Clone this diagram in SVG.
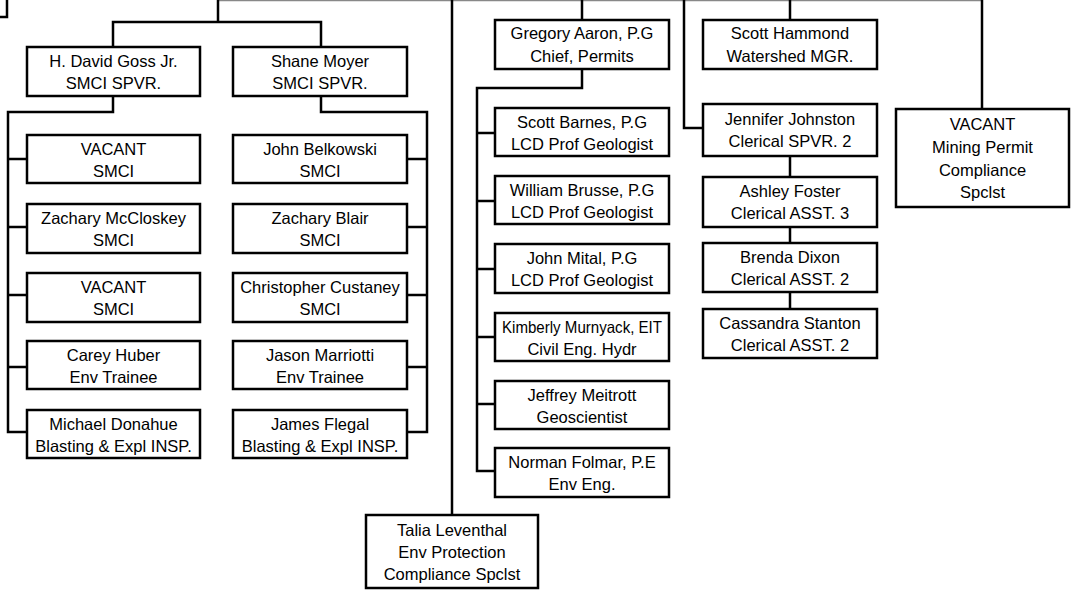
<svg xmlns="http://www.w3.org/2000/svg" width="1078" height="592" viewBox="0 0 1078 592">
<style>
.b{fill:#fff;stroke:#000;stroke-width:2.5}
.c{fill:none;stroke:#000;stroke-width:2.5}
text{font-family:"Liberation Sans",Arial,sans-serif;font-size:16.5px;fill:#000;text-anchor:middle}
</style>
<rect width="1078" height="592" fill="#fff"/>
<g id="connectors">
<line x1="218" y1="0.5" x2="982" y2="0.5" stroke="#888" stroke-width="1.5"/>
<path class="c" d="M0 17H7V0"/>
<path class="c" d="M218 0V22M113 47V22H321V47"/>
<path class="c" d="M113 96V112H8V432H27M8 159H27M8 227H27M8 295H27M8 367H27"/>
<path class="c" d="M321 96V112H427V432H407M427 159H407M427 227H407M427 295H407M427 367H407"/>
<path class="c" d="M452 0V515"/>
<path class="c" d="M582 0V20M582 69V88H477V471H495M477 133H495M477 201H495M477 269H495M477 337H495M477 404H495"/>
<path class="c" d="M790 0V20M684 0V128H703M790 156V177M790 227V243M790 292V309"/>
<path class="c" d="M982 0V109"/>
</g>
<g id="goss"><rect class="b" x="27" y="47" width="173" height="49"/><text x="113.5" y="67">H. David Goss Jr.</text><text x="113.5" y="89">SMCI SPVR.</text></g>
<g id="moyer"><rect class="b" x="233" y="47" width="174" height="49"/><text x="320" y="67">Shane Moyer</text><text x="320" y="89">SMCI SPVR.</text></g>
<g id="vacant1"><rect class="b" x="27" y="135" width="173" height="48"/><text x="113.5" y="155">VACANT</text><text x="113.5" y="177">SMCI</text></g>
<g id="mccloskey"><rect class="b" x="27" y="204" width="173" height="49"/><text x="113.5" y="224">Zachary McCloskey</text><text x="113.5" y="246">SMCI</text></g>
<g id="vacant2"><rect class="b" x="27" y="273" width="173" height="49"/><text x="113.5" y="293">VACANT</text><text x="113.5" y="315">SMCI</text></g>
<g id="huber"><rect class="b" x="27" y="341" width="173" height="48"/><text x="113.5" y="361">Carey Huber</text><text x="113.5" y="383">Env Trainee</text></g>
<g id="donahue"><rect class="b" x="27" y="410" width="173" height="48"/><text x="113.5" y="430">Michael Donahue</text><text x="113.5" y="452">Blasting &amp; Expl INSP.</text></g>
<g id="belkowski"><rect class="b" x="233" y="135" width="174" height="48"/><text x="320" y="155">John Belkowski</text><text x="320" y="177">SMCI</text></g>
<g id="blair"><rect class="b" x="233" y="204" width="174" height="49"/><text x="320" y="224">Zachary Blair</text><text x="320" y="246">SMCI</text></g>
<g id="custaney"><rect class="b" x="233" y="273" width="174" height="49"/><text x="320" y="293">Christopher Custaney</text><text x="320" y="315">SMCI</text></g>
<g id="marriotti"><rect class="b" x="233" y="341" width="174" height="48"/><text x="320" y="361">Jason Marriotti</text><text x="320" y="383">Env Trainee</text></g>
<g id="flegal"><rect class="b" x="233" y="410" width="174" height="48"/><text x="320" y="430">James Flegal</text><text x="320" y="452">Blasting &amp; Expl INSP.</text></g>
<g id="aaron"><rect class="b" x="495" y="20" width="174" height="49"/><text x="582" y="39">Gregory Aaron, P.G</text><text x="582" y="62">Chief, Permits</text></g>
<g id="barnes"><rect class="b" x="495" y="108" width="174" height="48"/><text x="582" y="128">Scott Barnes, P.G</text><text x="582" y="150">LCD Prof Geologist</text></g>
<g id="brusse"><rect class="b" x="495" y="176" width="174" height="48"/><text x="582" y="196">William Brusse, P.G</text><text x="582" y="218">LCD Prof Geologist</text></g>
<g id="mital"><rect class="b" x="495" y="244" width="174" height="49"/><text x="582" y="264">John Mital, P.G</text><text x="582" y="286">LCD Prof Geologist</text></g>
<g id="murnyack"><rect class="b" x="495" y="313" width="174" height="48"/><text x="582" y="333" textLength="160" lengthAdjust="spacingAndGlyphs">Kimberly Murnyack, EIT</text><text x="582" y="355">Civil Eng. Hydr</text></g>
<g id="meitrott"><rect class="b" x="495" y="381" width="174" height="48"/><text x="582" y="401">Jeffrey Meitrott</text><text x="582" y="423">Geoscientist</text></g>
<g id="folmar"><rect class="b" x="495" y="448" width="174" height="49"/><text x="582" y="468">Norman Folmar, P.E</text><text x="582" y="490">Env Eng.</text></g>
<g id="leventhal"><rect class="b" x="366" y="515" width="172" height="73"/><text x="452" y="536">Talia Leventhal</text><text x="452" y="558">Env Protection</text><text x="452" y="580">Compliance Spclst</text></g>
<g id="hammond"><rect class="b" x="703" y="20" width="174" height="49"/><text x="790" y="39">Scott Hammond</text><text x="790" y="62">Watershed MGR.</text></g>
<g id="johnston"><rect class="b" x="703" y="104" width="174" height="52"/><text x="790" y="125">Jennifer Johnston</text><text x="790" y="147">Clerical SPVR. 2</text></g>
<g id="foster"><rect class="b" x="703" y="177" width="174" height="50"/><text x="790" y="197">Ashley Foster</text><text x="790" y="219">Clerical ASST. 3</text></g>
<g id="dixon"><rect class="b" x="703" y="243" width="174" height="49"/><text x="790" y="263">Brenda Dixon</text><text x="790" y="285">Clerical ASST. 2</text></g>
<g id="stanton"><rect class="b" x="703" y="309" width="174" height="49"/><text x="790" y="329">Cassandra Stanton</text><text x="790" y="351">Clerical ASST. 2</text></g>
<g id="vacant-mining"><rect class="b" x="896" y="109" width="173" height="98"/><text x="982.5" y="130">VACANT</text><text x="982.5" y="153">Mining Permit</text><text x="982.5" y="176">Compliance</text><text x="982.5" y="198">Spclst</text></g>
</svg>
